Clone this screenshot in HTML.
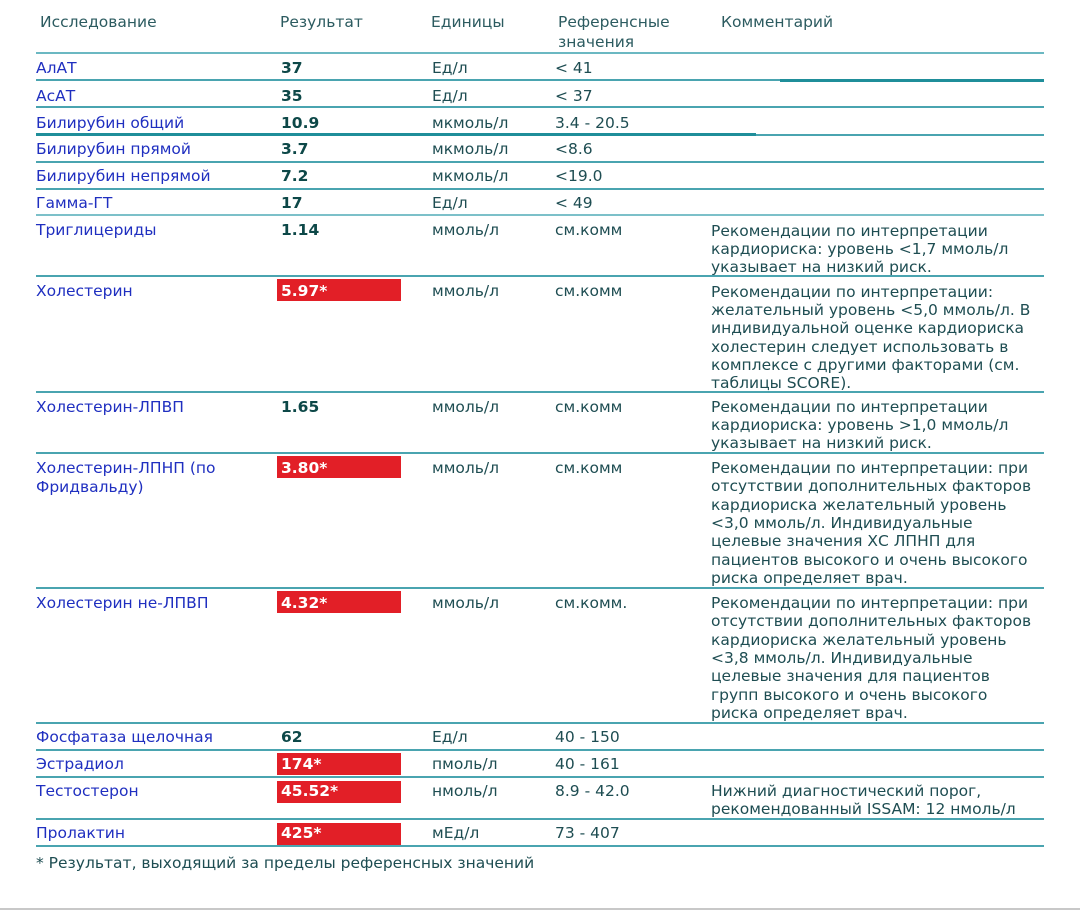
<!DOCTYPE html>
<html>
<head>
<meta charset="utf-8">
<style>
  html, body { margin:0; padding:0; background:#ffffff; }
  body { width:1080px; height:910px; position:relative; overflow:hidden;
         font-family:"DejaVu Sans","Liberation Sans",sans-serif; font-size:15.5px; }
  .t { position:absolute; white-space:nowrap; line-height:18px; color:#1e4d52; }
  .h { color:#2c5b60; }
  .n { color:#1f2fc0; }
  .v { color:#0d4848; font-weight:bold; }
  .c { line-height:18.2px; }
  .ln { position:absolute; left:36px; width:1008px; height:2px; background:#4aa4b0; }
  .dk { background:#1f8e9a; height:3px; }
  .rb { position:absolute; left:277px; width:124px; height:22px; background:#e21f27; }
  .rt { color:#ffffff; font-weight:bold; }
</style>
</head>
<body>

<!-- Header -->
<div class="t h" style="left:40px;top:13px">Исследование</div>
<div class="t h" style="left:280px;top:13px">Результат</div>
<div class="t h" style="left:431px;top:13px">Единицы</div>
<div class="t h" style="left:558px;top:13px">Референсные</div>
<div class="t h" style="left:558px;top:33px">значения</div>
<div class="t h" style="left:721px;top:13px">Комментарий</div>

<!-- Lines -->
<div class="ln" style="top:52px;background:#6bb8c2"></div>
<div class="ln" style="top:79px;width:744px"></div>
<div class="ln dk" style="top:79px;left:780px;width:264px"></div>
<div class="ln" style="top:106px"></div>
<div class="ln dk" style="top:133px;width:720px"></div>
<div class="ln" style="top:134px;left:756px;width:288px"></div>
<div class="ln" style="top:161px"></div>
<div class="ln" style="top:188px"></div>
<div class="ln" style="top:214px;background:#7cc0c9"></div>
<div class="ln" style="top:275px"></div>
<div class="ln" style="top:391px"></div>
<div class="ln" style="top:452px"></div>
<div class="ln" style="top:587px"></div>
<div class="ln" style="top:722px"></div>
<div class="ln" style="top:749px"></div>
<div class="ln" style="top:776px"></div>
<div class="ln" style="top:818px"></div>
<div class="ln" style="top:845px"></div>
<div style="position:absolute;left:0;top:908px;width:1080px;height:2px;background:#c8c8c8"></div>

<!-- Red boxes -->
<div class="rb" style="top:279px"></div>
<div class="rb" style="top:456px"></div>
<div class="rb" style="top:591px"></div>
<div class="rb" style="top:753px"></div>
<div class="rb" style="top:781px"></div>
<div class="rb" style="top:823px"></div>

<!-- Row 1 -->
<div class="t n" style="left:36px;top:59px">АлАТ</div>
<div class="t v" style="left:281px;top:59px">37</div>
<div class="t" style="left:432px;top:59px">Ед/л</div>
<div class="t" style="left:555px;top:59px">&lt; 41</div>

<!-- Row 2 -->
<div class="t n" style="left:36px;top:87px">АсАТ</div>
<div class="t v" style="left:281px;top:87px">35</div>
<div class="t" style="left:432px;top:87px">Ед/л</div>
<div class="t" style="left:555px;top:87px">&lt; 37</div>

<!-- Row 3 -->
<div class="t n" style="left:36px;top:114px">Билирубин общий</div>
<div class="t v" style="left:281px;top:114px">10.9</div>
<div class="t" style="left:432px;top:114px">мкмоль/л</div>
<div class="t" style="left:555px;top:114px">3.4 - 20.5</div>

<!-- Row 4 -->
<div class="t n" style="left:36px;top:140px">Билирубин прямой</div>
<div class="t v" style="left:281px;top:140px">3.7</div>
<div class="t" style="left:432px;top:140px">мкмоль/л</div>
<div class="t" style="left:555px;top:140px">&lt;8.6</div>

<!-- Row 5 -->
<div class="t n" style="left:36px;top:167px">Билирубин непрямой</div>
<div class="t v" style="left:281px;top:167px">7.2</div>
<div class="t" style="left:432px;top:167px">мкмоль/л</div>
<div class="t" style="left:555px;top:167px">&lt;19.0</div>

<!-- Row 6 -->
<div class="t n" style="left:36px;top:194px">Гамма-ГТ</div>
<div class="t v" style="left:281px;top:194px">17</div>
<div class="t" style="left:432px;top:194px">Ед/л</div>
<div class="t" style="left:555px;top:194px">&lt; 49</div>

<!-- Row 7 -->
<div class="t n" style="left:36px;top:221px">Триглицериды</div>
<div class="t v" style="left:281px;top:221px">1.14</div>
<div class="t" style="left:432px;top:221px">ммоль/л</div>
<div class="t" style="left:555px;top:221px">см.комм</div>
<div class="t c" style="left:711px;top:222px">Рекомендации по интерпретации<br>кардиориска: уровень &lt;1,7 ммоль/л<br>указывает на низкий риск.</div>

<!-- Row 8 -->
<div class="t n" style="left:36px;top:282px">Холестерин</div>
<div class="t rt" style="left:281px;top:282px">5.97*</div>
<div class="t" style="left:432px;top:282px">ммоль/л</div>
<div class="t" style="left:555px;top:282px">см.комм</div>
<div class="t c" style="left:711px;top:283px">Рекомендации по интерпретации:<br>желательный уровень &lt;5,0 ммоль/л. В<br>индивидуальной оценке кардиориска<br>холестерин следует использовать в<br>комплексе с другими факторами (см.<br>таблицы SCORE).</div>

<!-- Row 9 -->
<div class="t n" style="left:36px;top:398px">Холестерин-ЛПВП</div>
<div class="t v" style="left:281px;top:398px">1.65</div>
<div class="t" style="left:432px;top:398px">ммоль/л</div>
<div class="t" style="left:555px;top:398px">см.комм</div>
<div class="t c" style="left:711px;top:398px">Рекомендации по интерпретации<br>кардиориска: уровень &gt;1,0 ммоль/л<br>указывает на низкий риск.</div>

<!-- Row 10 -->
<div class="t n" style="left:36px;top:459px;line-height:19px">Холестерин-ЛПНП (по<br>Фридвальду)</div>
<div class="t rt" style="left:281px;top:459px">3.80*</div>
<div class="t" style="left:432px;top:459px">ммоль/л</div>
<div class="t" style="left:555px;top:459px">см.комм</div>
<div class="t c" style="left:711px;top:459px;line-height:18.33px">Рекомендации по интерпретации: при<br>отсутствии дополнительных факторов<br>кардиориска желательный уровень<br>&lt;3,0 ммоль/л. Индивидуальные<br>целевые значения ХС ЛПНП для<br>пациентов высокого и очень высокого<br>риска определяет врач.</div>

<!-- Row 11 -->
<div class="t n" style="left:36px;top:594px">Холестерин не-ЛПВП</div>
<div class="t rt" style="left:281px;top:594px">4.32*</div>
<div class="t" style="left:432px;top:594px">ммоль/л</div>
<div class="t" style="left:555px;top:594px">см.комм.</div>
<div class="t c" style="left:711px;top:594px;line-height:18.33px">Рекомендации по интерпретации: при<br>отсутствии дополнительных факторов<br>кардиориска желательный уровень<br>&lt;3,8 ммоль/л. Индивидуальные<br>целевые значения для пациентов<br>групп высокого и очень высокого<br>риска определяет врач.</div>

<!-- Row 12 -->
<div class="t n" style="left:36px;top:728px">Фосфатаза щелочная</div>
<div class="t v" style="left:281px;top:728px">62</div>
<div class="t" style="left:432px;top:728px">Ед/л</div>
<div class="t" style="left:555px;top:728px">40 - 150</div>

<!-- Row 13 -->
<div class="t n" style="left:36px;top:755px">Эстрадиол</div>
<div class="t rt" style="left:281px;top:755px">174*</div>
<div class="t" style="left:432px;top:755px">пмоль/л</div>
<div class="t" style="left:555px;top:755px">40 - 161</div>

<!-- Row 14 -->
<div class="t n" style="left:36px;top:782px">Тестостерон</div>
<div class="t rt" style="left:281px;top:782px">45.52*</div>
<div class="t" style="left:432px;top:782px">нмоль/л</div>
<div class="t" style="left:555px;top:782px">8.9 - 42.0</div>
<div class="t c" style="left:711px;top:782px;line-height:18.3px">Нижний диагностический порог,<br>рекомендованный ISSAM: 12 нмоль/л</div>

<!-- Row 15 -->
<div class="t n" style="left:36px;top:824px">Пролактин</div>
<div class="t rt" style="left:281px;top:824px">425*</div>
<div class="t" style="left:432px;top:824px">мЕд/л</div>
<div class="t" style="left:555px;top:824px">73 - 407</div>

<!-- Footnote -->
<div class="t" style="left:36px;top:854px">* Результат, выходящий за пределы референсных значений</div>

</body>
</html>
